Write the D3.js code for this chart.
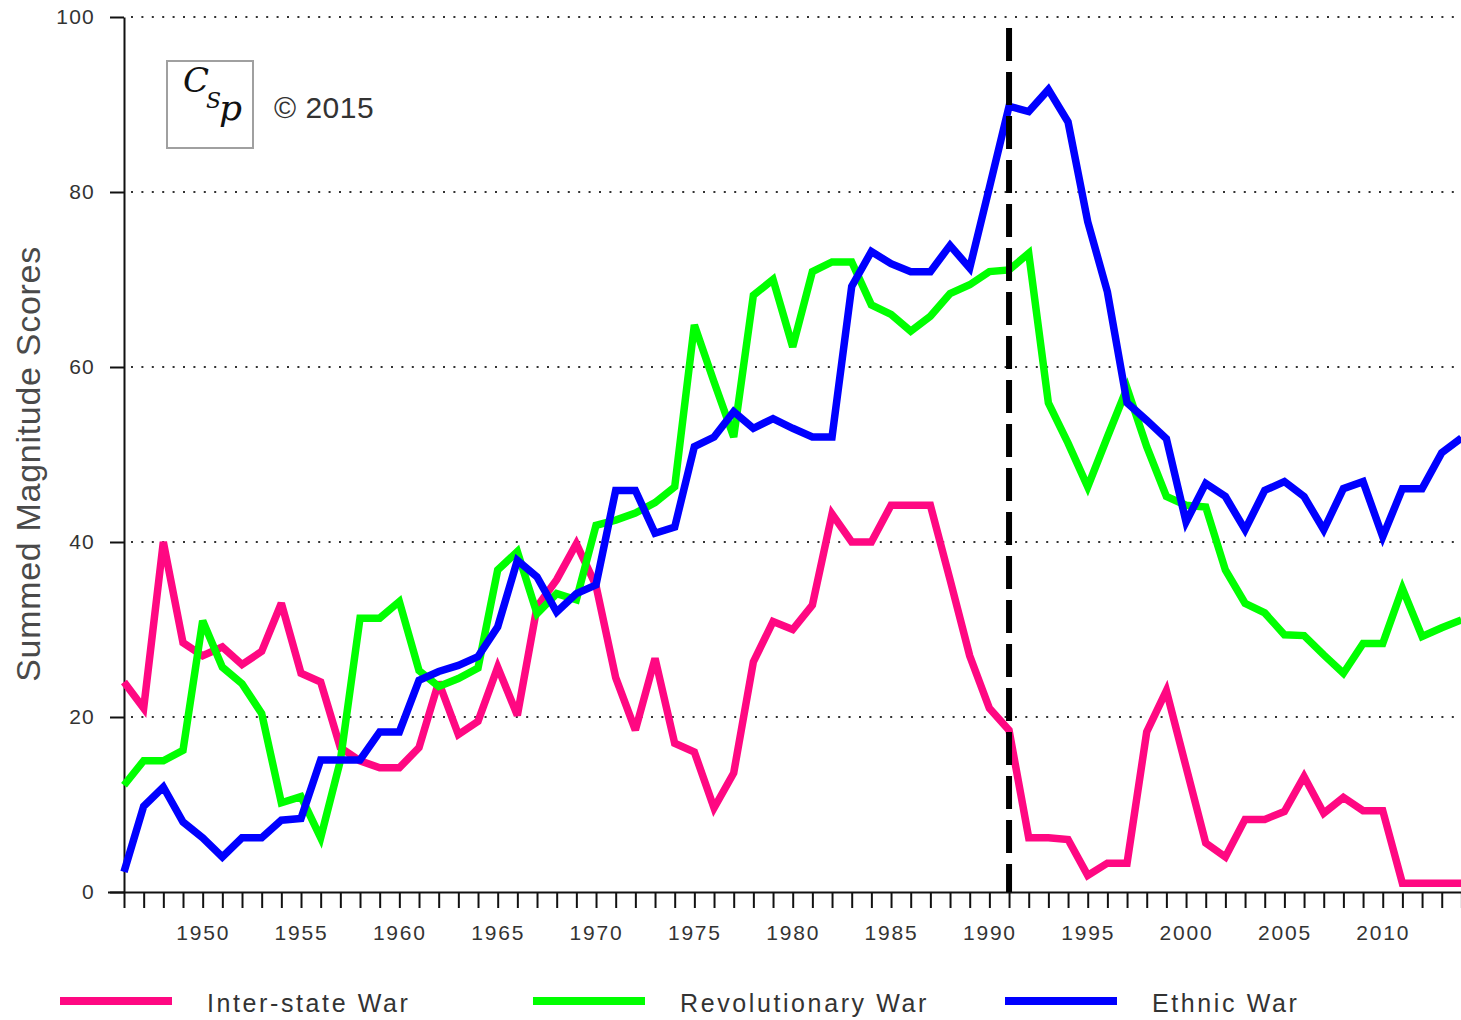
<!DOCTYPE html>
<html>
<head>
<meta charset="utf-8">
<script src="https://cdn.jsdelivr.net/npm/d3@7"></script>
<style>
  html, body { margin: 0; padding: 0; background: #fff; }
  svg { display: block; }
  text { font-family: "Liberation Sans", Arial, sans-serif; }
</style>
</head>
<body>
<svg id="chart" width="1461" height="1020"></svg>
<script>
// ---------- data ----------
const years = d3.range(1946, 2015);

const interstateWar = [
  24, 21, 40, 28.5, 27, 28, 26, 27.5, 33, 25,
  24, 16.5, 15, 14.2, 14.2, 16.5, 24, 18, 19.5, 25.7,
  20.2, 32.6, 35.7, 39.8, 35, 24.5, 18.5, 26.7, 17, 16,
  9.6, 13.6, 26.3, 30.9, 30, 32.8, 43.2, 40, 40, 44.2,
  44.2, 44.2, 35.7, 27, 21, 18.5, 6.2, 6.2, 6, 1.9,
  3.3, 3.3, 18.3, 23, 14.3, 5.6, 4, 8.3, 8.3, 9.2,
  13.2, 9, 10.8, 9.3, 9.3, 1, 1, 1, 1
];

const revolutionaryWar = [
  12.2, 15, 15, 16.2, 31, 25.7, 23.8, 20.4, 10.2, 10.9,
  6.2, 15, 31.3, 31.3, 33.2, 25.3, 23.5, 24.4, 25.6, 36.8,
  38.9, 31.8, 34.1, 33.4, 41.9, 42.5, 43.3, 44.5, 46.3, 64.8,
  58.3, 52, 68.2, 70, 62.3, 70.9, 72, 72, 67.1, 66,
  64.1, 65.8, 68.4, 69.4, 70.9, 71.1, 73, 55.9, 51.3, 46.3,
  52, 57.6, 50.9, 45.2, 44.2, 44, 36.8, 33, 31.9, 29.4,
  29.3, 27.1, 25, 28.4, 28.4, 34.7, 29.2, 30.2, 31.1
];

const ethnicWar = [
  2.3, 9.8, 12, 8, 6.2, 4, 6.2, 6.2, 8.2, 8.4,
  15.1, 15.1, 15.1, 18.3, 18.3, 24.2, 25.2, 25.9, 26.9, 30.3,
  37.9, 36, 32, 34.1, 35.1, 45.9, 45.9, 41, 41.7, 50.9,
  52, 54.9, 53, 54.1, 53, 52, 52, 69.2, 73.2, 71.8,
  70.9, 70.9, 73.9, 71.3, 80.5, 89.8, 89.2, 91.7, 88, 76.6,
  68.6, 55.9, 53.9, 51.8, 42.3, 46.7, 45.2, 41.4, 45.9, 46.9,
  45.2, 41.4, 46.1, 46.9, 40.6, 46.1, 46.1, 50.2, 51.9
];

const seriesNames = ["Inter-state War", "Revolutionary War", "Ethnic War"];
const seriesColors = ["#ff0882", "#00ff00", "#0000ff"];
const yTicks = [0, 20, 40, 60, 80, 100];
const gridValues = [20, 40, 60, 80, 100];
const markerYear = 1991;
const yAxisTitle = "Summed Magnitude Scores";
const copyrightText = "\u00A9 2015";

// ---------- setup ----------
const svg = d3.select("#chart");
const x = d3.scaleLinear().domain([1946, 2014]).range([124, 1461.4]);
const y = d3.scaleLinear().domain([0, 100]).range([892, 17]);

// grid lines (dotted)
svg.append("g").selectAll("line").data(gridValues).join("line")
  .attr("x1", 131).attr("x2", 1461)
  .attr("y1", d => y(d)).attr("y2", d => y(d))
  .attr("stroke", "#333").attr("stroke-width", 2)
  .attr("stroke-dasharray", "2,8.4");

// y axis
const yAxis = svg.append("g")
  .attr("transform", `translate(${x(1946)},0)`)
  .call(d3.axisLeft(y).tickValues(yTicks).tickSize(14).tickSizeOuter(0).tickPadding(15));
yAxis.select(".domain").attr("stroke", "#111").attr("stroke-width", 2);
yAxis.selectAll(".tick line").attr("stroke", "#111").attr("stroke-width", 2);
yAxis.selectAll(".tick text")
  .attr("font-size", 21).attr("fill", "#333")
  .style("font-family", "'Liberation Sans', Arial, sans-serif")
  .style("letter-spacing", "1.2px");

// x axis
const xAxis = svg.append("g")
  .attr("transform", `translate(0,${y(0)})`)
  .call(d3.axisBottom(x).tickValues(years).tickSize(16).tickSizeOuter(0).tickPadding(17)
    .tickFormat(d => d % 5 === 0 ? String(d) : ""));
xAxis.select(".domain").attr("stroke", "#111").attr("stroke-width", 2)
  .attr("d", `M108,0.5H1461`);
xAxis.selectAll(".tick line").attr("stroke", "#111").attr("stroke-width", 2);
xAxis.selectAll(".tick text")
  .attr("font-size", 21).attr("fill", "#333")
  .style("font-family", "'Liberation Sans', Arial, sans-serif")
  .style("letter-spacing", "1.8px");

// y axis title
svg.append("text")
  .attr("transform", "translate(40,464) rotate(-90)")
  .attr("text-anchor", "middle")
  .attr("font-size", 34)
  .attr("fill", "#4a4a4a")
  .style("letter-spacing", "0.7px")
  .text(yAxisTitle);

// lines
const allSeries = [interstateWar, revolutionaryWar, ethnicWar];
const line = d3.line().x((d, i) => x(years[i])).y(d => y(d));
svg.append("g").selectAll("path").data(allSeries).join("path")
  .attr("d", d => line(d))
  .attr("fill", "none")
  .attr("stroke", (d, i) => seriesColors[i])
  .attr("stroke-width", 7.5)
  .attr("stroke-linejoin", "miter")
  .attr("stroke-miterlimit", 3);

// dashed marker line
svg.append("line")
  .attr("x1", x(markerYear)).attr("x2", x(markerYear))
  .attr("y1", 28).attr("y2", y(0))
  .attr("stroke", "#000").attr("stroke-width", 6)
  .attr("stroke-dasharray", "33,11");

// logo box
const logo = svg.append("g");
logo.append("rect")
  .attr("x", 167).attr("y", 61).attr("width", 86).attr("height", 87)
  .attr("fill", "#fff").attr("stroke", "#a0a0a0").attr("stroke-width", 2);
const sig = logo.append("text").attr("x", 183).attr("y", 92)
  .attr("font-style", "italic")
  .style("font-family", "'DejaVu Serif', serif").attr("fill", "#111");
sig.append("tspan").attr("font-size", 34).text("C");
sig.append("tspan").attr("font-size", 22).attr("dx", -3).attr("dy", 16).text("S");
sig.append("tspan").attr("font-size", 36).attr("dx", -2).attr("dy", 12).text("p");

svg.append("text")
  .attr("x", 274).attr("y", 118)
  .attr("font-size", 30).attr("fill", "#333")
  .style("letter-spacing", "0.5px")
  .text(copyrightText);

// legend
const legendX = [60, 533, 1005];
const legend = svg.append("g").selectAll("g").data(seriesNames).join("g")
  .attr("transform", (d, i) => `translate(${legendX[i]},1001)`);
legend.append("line")
  .attr("x1", 0).attr("x2", 112).attr("y1", 0).attr("y2", 0)
  .attr("stroke", (d, i) => seriesColors[i]).attr("stroke-width", 8);
legend.append("text")
  .attr("x", 147).attr("y", 11)
  .attr("font-size", 25).attr("fill", "#333")
  .style("letter-spacing", "2.6px")
  .text(d => d);
</script>
</body>
</html>
